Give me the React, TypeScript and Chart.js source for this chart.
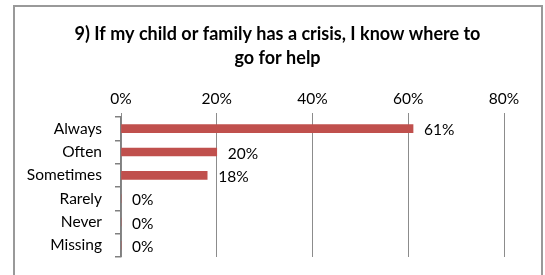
import React, { useEffect, useRef } from "react";
import { Chart, registerables } from "chart.js";

Chart.register(...registerables);

const titleLines = ["9) If my child or family has a crisis, I know where to", "go for help"];
const categories = ["Always", "Often", "Sometimes", "Rarely", "Never", "Missing"];
const values = [61, 20, 18, 0, 0, 0];
const xMax = 80;
const xStep = 20;

const FONT = "Lato, 'Open Sans', sans-serif";

export default function App() {
  const ref = useRef<HTMLCanvasElement | null>(null);
  useEffect(() => {
    document.body.style.margin = "0";
    const labelPlugin = {
      id: "valueLabels",
      afterDatasetsDraw(chart: any) {
        const ctx = chart.ctx;
        const meta = chart.getDatasetMeta(0);
        ctx.save();
        ctx.font = `15.5px ${FONT}`;
        ctx.fillStyle = "#000";
        ctx.textAlign = "left";
        ctx.textBaseline = "middle";
        meta.data.forEach((el: any, i: number) => {
          ctx.fillText(values[i] + "%", el.x + 11, el.y + 1.5);
        });
        ctx.restore();
      },
    };
    const titlePlugin = {
      id: "titleText",
      afterDraw(chart: any) {
        const ctx = chart.ctx;
        ctx.save();
        ctx.font = `bold 18px ${FONT}`;
        ctx.fillStyle = "#000";
        ctx.textAlign = "center";
        ctx.textBaseline = "middle";
        ctx.fillText(titleLines[0], 277.5, 34);
        ctx.fillText(titleLines[1], 277.5, 58);
        ctx.restore();
      },
    };
    const chart = new Chart(ref.current!, {
      type: "bar",
      data: {
        labels: categories,
        datasets: [
          {
            data: values,
            backgroundColor: "#C0504D",
            barThickness: 8,
          },
        ],
      },
      plugins: [labelPlugin, titlePlugin],
      options: {
        indexAxis: "y",
        animation: false,
        responsive: false,
        maintainAspectRatio: false,
        layout: { padding: { top: 0, right: 41, bottom: 18, left: 0 } },
        plugins: { legend: { display: false }, tooltip: { enabled: false } },
        scales: {
          x: {
            position: "top",
            min: 0,
            max: xMax,
            afterFit: (s: any) => {
              s.height = 117;
              s.paddingLeft = 0;
              s.paddingRight = 0;
            },
            ticks: {
              stepSize: xStep,
              color: "#000",
              padding: 5,
              font: { family: FONT, size: 15.5 },
              callback: (v: any) => v + "%",
            },
            grid: { color: "#8c8c8c", lineWidth: 1, tickLength: 4 },
            border: { display: false },
          },
          y: {
            afterFit: (s: any) => {
              s.width = 121;
              s.paddingTop = 0;
              s.paddingBottom = 0;
            },
            ticks: {
              color: "#000",
              padding: 13,
              font: { family: FONT, size: 15.5 },
            },
            grid: {
              display: true,
              drawOnChartArea: false,
              drawTicks: true,
              tickLength: 6,
              color: "#808080",
              tickColor: "#808080",
              lineWidth: 1.5,
              tickWidth: 1.5,
              offset: true,
            },
            border: { display: true, color: "#808080", width: 1.5 },
          },
        },
      },
    } as any);
    return () => chart.destroy();
  }, []);
  return (
    <div style={{ position: "relative", width: 545, height: 275, background: "#fff", overflow: "hidden" }}>
      <canvas ref={ref} width={545} height={275} style={{ position: "absolute", left: 0, top: 0 }} />
      <div
        style={{
          position: "absolute",
          left: 13,
          top: 5,
          width: 526,
          height: 290,
          border: "2px solid #999",
          pointerEvents: "none",
        }}
      />
    </div>
  );
}
